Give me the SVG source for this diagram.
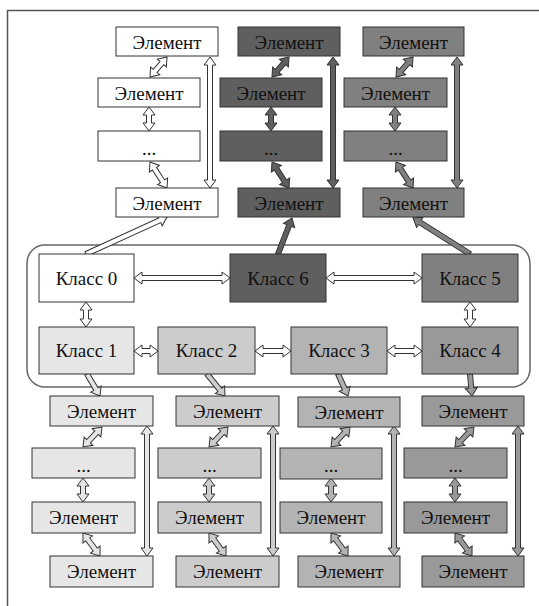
<svg xmlns="http://www.w3.org/2000/svg" width="539" height="606" viewBox="0 0 539 606">
<style>
.box{stroke:#333;stroke-width:1}
.arr{stroke:#333;stroke-width:1;stroke-linejoin:miter}
.w{fill:#ffffff}.d{fill:#5f5f5f}.g{fill:#808080}
.c1{fill:#e6e6e6}.c2{fill:#cccccc}.c3{fill:#b3b3b3}.c4{fill:#999999}
text{font-family:'Liberation Serif','DejaVu Serif',serif;font-size:19px;fill:#111;text-anchor:middle}
</style>
<rect x="0" y="0" width="539" height="606" fill="#fff"/>
<rect x="7.5" y="10.5" width="540" height="610" fill="none" stroke="#555" stroke-width="1.5"/>
<rect id="container" x="27" y="245" width="503" height="142" rx="18" fill="none" stroke="#666" stroke-width="1.5"/>

<g id="connectors">
<path class="arr w" transform="translate(167,57) rotate(130.4)" d="M0,0 L8,-6 L8,-2.5 L18.25,-2.5 L18.25,-6 L26.25,0 L18.25,6 L18.25,2.5 L8,2.5 L8,6 Z"/>
<path class="arr w" transform="translate(149,107) rotate(90)" d="M0,0 L8,-6 L8,-2.5 L16,-2.5 L16,-6 L24,0 L16,6 L16,2.5 L8,2.5 L8,6 Z"/>
<path class="arr w" transform="translate(150,162) rotate(56.8)" d="M0,0 L8,-6 L8,-2.5 L23.06,-2.5 L23.06,-6 L31.06,0 L23.06,6 L23.06,2.5 L8,2.5 L8,6 Z"/>
<path class="arr w" transform="translate(210,57) rotate(90)" d="M0,0 L8,-6 L8,-2.5 L123,-2.5 L123,-6 L131,0 L123,6 L123,2.5 L8,2.5 L8,6 Z"/>
<path class="arr d" transform="translate(289,57) rotate(130.4)" d="M0,0 L8,-6 L8,-2.5 L18.25,-2.5 L18.25,-6 L26.25,0 L18.25,6 L18.25,2.5 L8,2.5 L8,6 Z"/>
<path class="arr d" transform="translate(271,107) rotate(90)" d="M0,0 L8,-6 L8,-2.5 L16,-2.5 L16,-6 L24,0 L16,6 L16,2.5 L8,2.5 L8,6 Z"/>
<path class="arr d" transform="translate(272,162) rotate(56.8)" d="M0,0 L8,-6 L8,-2.5 L23.06,-2.5 L23.06,-6 L31.06,0 L23.06,6 L23.06,2.5 L8,2.5 L8,6 Z"/>
<path class="arr d" transform="translate(333,57) rotate(90)" d="M0,0 L8,-6 L8,-2.5 L123,-2.5 L123,-6 L131,0 L123,6 L123,2.5 L8,2.5 L8,6 Z"/>
<path class="arr g" transform="translate(413,57) rotate(130.4)" d="M0,0 L8,-6 L8,-2.5 L18.25,-2.5 L18.25,-6 L26.25,0 L18.25,6 L18.25,2.5 L8,2.5 L8,6 Z"/>
<path class="arr g" transform="translate(395,107) rotate(90)" d="M0,0 L8,-6 L8,-2.5 L16,-2.5 L16,-6 L24,0 L16,6 L16,2.5 L8,2.5 L8,6 Z"/>
<path class="arr g" transform="translate(396,162) rotate(56.8)" d="M0,0 L8,-6 L8,-2.5 L23.06,-2.5 L23.06,-6 L31.06,0 L23.06,6 L23.06,2.5 L8,2.5 L8,6 Z"/>
<path class="arr g" transform="translate(457,57) rotate(90)" d="M0,0 L8,-6 L8,-2.5 L123,-2.5 L123,-6 L131,0 L123,6 L123,2.5 L8,2.5 L8,6 Z"/>
<path class="arr w" transform="translate(86,254) rotate(-24.55)" d="M0,-2.5 L81.05,-2.5 L81.05,-6 L89.05,0 L81.05,6 L81.05,2.5 L0,2.5 Z"/>
<path class="arr d" transform="translate(278,254) rotate(-68.75)" d="M0,-2.5 L30.6,-2.5 L30.6,-6 L38.6,0 L30.6,6 L30.6,2.5 L0,2.5 Z"/>
<path class="arr g" transform="translate(470,254) rotate(-147.7)" d="M0,-2.5 L59.4,-2.5 L59.4,-6 L67.4,0 L59.4,6 L59.4,2.5 L0,2.5 Z"/>
<path class="arr w" transform="translate(134,278) rotate(0)" d="M0,0 L8,-6 L8,-2.5 L88,-2.5 L88,-6 L96,0 L88,6 L88,2.5 L8,2.5 L8,6 Z"/>
<path class="arr w" transform="translate(326,278) rotate(0)" d="M0,0 L8,-6 L8,-2.5 L88,-2.5 L88,-6 L96,0 L88,6 L88,2.5 L8,2.5 L8,6 Z"/>
<path class="arr w" transform="translate(86,302) rotate(90)" d="M0,0 L8,-6 L8,-2.5 L17,-2.5 L17,-6 L25,0 L17,6 L17,2.5 L8,2.5 L8,6 Z"/>
<path class="arr w" transform="translate(470,302) rotate(90)" d="M0,0 L8,-6 L8,-2.5 L17,-2.5 L17,-6 L25,0 L17,6 L17,2.5 L8,2.5 L8,6 Z"/>
<path class="arr w" transform="translate(134,351) rotate(0)" d="M0,0 L8,-6 L8,-2.5 L16,-2.5 L16,-6 L24,0 L16,6 L16,2.5 L8,2.5 L8,6 Z"/>
<path class="arr w" transform="translate(255,351) rotate(0)" d="M0,0 L8,-6 L8,-2.5 L28,-2.5 L28,-6 L36,0 L28,6 L28,2.5 L8,2.5 L8,6 Z"/>
<path class="arr w" transform="translate(387,351) rotate(0)" d="M0,0 L8,-6 L8,-2.5 L27,-2.5 L27,-6 L35,0 L27,6 L27,2.5 L8,2.5 L8,6 Z"/>
<path class="arr c1" transform="translate(87,374) rotate(59.4)" d="M0,-2.5 L17.55,-2.5 L17.55,-6 L25.55,0 L17.55,6 L17.55,2.5 L0,2.5 Z"/>
<path class="arr c2" transform="translate(207,374) rotate(50.7)" d="M0,-2.5 L20.4,-2.5 L20.4,-6 L28.4,0 L20.4,6 L20.4,2.5 L0,2.5 Z"/>
<path class="arr c3" transform="translate(338,374) rotate(65.6)" d="M0,-2.5 L16.2,-2.5 L16.2,-6 L24.2,0 L16.2,6 L16.2,2.5 L0,2.5 Z"/>
<path class="arr c4" transform="translate(470,374) rotate(84.8)" d="M0,-2.5 L14.1,-2.5 L14.1,-6 L22.1,0 L14.1,6 L14.1,2.5 L0,2.5 Z"/>
<path class="arr c1" transform="translate(102,427) rotate(133.5)" d="M0,0 L8,-6 L8,-2.5 L19.6,-2.5 L19.6,-6 L27.6,0 L19.6,6 L19.6,2.5 L8,2.5 L8,6 Z"/>
<path class="arr c1" transform="translate(83,478) rotate(90)" d="M0,0 L8,-6 L8,-2.5 L16,-2.5 L16,-6 L24,0 L16,6 L16,2.5 L8,2.5 L8,6 Z"/>
<path class="arr c1" transform="translate(83,533) rotate(53.5)" d="M0,0 L8,-6 L8,-2.5 L20.6,-2.5 L20.6,-6 L28.6,0 L20.6,6 L20.6,2.5 L8,2.5 L8,6 Z"/>
<path class="arr c1" transform="translate(147,426) rotate(90)" d="M0,0 L8,-6 L8,-2.5 L122,-2.5 L122,-6 L130,0 L122,6 L122,2.5 L8,2.5 L8,6 Z"/>
<path class="arr c2" transform="translate(228,427) rotate(133.5)" d="M0,0 L8,-6 L8,-2.5 L19.6,-2.5 L19.6,-6 L27.6,0 L19.6,6 L19.6,2.5 L8,2.5 L8,6 Z"/>
<path class="arr c2" transform="translate(209,478) rotate(90)" d="M0,0 L8,-6 L8,-2.5 L16,-2.5 L16,-6 L24,0 L16,6 L16,2.5 L8,2.5 L8,6 Z"/>
<path class="arr c2" transform="translate(209,533) rotate(53.5)" d="M0,0 L8,-6 L8,-2.5 L20.6,-2.5 L20.6,-6 L28.6,0 L20.6,6 L20.6,2.5 L8,2.5 L8,6 Z"/>
<path class="arr c2" transform="translate(273,426) rotate(90)" d="M0,0 L8,-6 L8,-2.5 L122,-2.5 L122,-6 L130,0 L122,6 L122,2.5 L8,2.5 L8,6 Z"/>
<path class="arr c3" transform="translate(350,427) rotate(133.5)" d="M0,0 L8,-6 L8,-2.5 L19.6,-2.5 L19.6,-6 L27.6,0 L19.6,6 L19.6,2.5 L8,2.5 L8,6 Z"/>
<path class="arr c3" transform="translate(331,478) rotate(90)" d="M0,0 L8,-6 L8,-2.5 L16,-2.5 L16,-6 L24,0 L16,6 L16,2.5 L8,2.5 L8,6 Z"/>
<path class="arr c3" transform="translate(331,533) rotate(53.5)" d="M0,0 L8,-6 L8,-2.5 L20.6,-2.5 L20.6,-6 L28.6,0 L20.6,6 L20.6,2.5 L8,2.5 L8,6 Z"/>
<path class="arr c3" transform="translate(394,426) rotate(90)" d="M0,0 L8,-6 L8,-2.5 L122,-2.5 L122,-6 L130,0 L122,6 L122,2.5 L8,2.5 L8,6 Z"/>
<path class="arr c4" transform="translate(474,427) rotate(133.5)" d="M0,0 L8,-6 L8,-2.5 L19.6,-2.5 L19.6,-6 L27.6,0 L19.6,6 L19.6,2.5 L8,2.5 L8,6 Z"/>
<path class="arr c4" transform="translate(455,478) rotate(90)" d="M0,0 L8,-6 L8,-2.5 L16,-2.5 L16,-6 L24,0 L16,6 L16,2.5 L8,2.5 L8,6 Z"/>
<path class="arr c4" transform="translate(455,533) rotate(53.5)" d="M0,0 L8,-6 L8,-2.5 L20.6,-2.5 L20.6,-6 L28.6,0 L20.6,6 L20.6,2.5 L8,2.5 L8,6 Z"/>
<path class="arr c4" transform="translate(518,426) rotate(90)" d="M0,0 L8,-6 L8,-2.5 L122,-2.5 L122,-6 L130,0 L122,6 L122,2.5 L8,2.5 L8,6 Z"/>
</g>

<g id="t1a"><rect class="box w" x="116" y="27" width="102" height="29"/><text x="167" y="49">Элемент</text></g>
<g id="t1b"><rect class="box w" x="98" y="78" width="102" height="29"/><text x="149" y="100">Элемент</text></g>
<g id="t1c"><rect class="box w" x="98" y="131" width="102" height="30"/><text x="149" y="155">...</text></g>
<g id="t1d"><rect class="box w" x="116" y="188" width="102" height="29"/><text x="167" y="210">Элемент</text></g>
<g id="t2a"><rect class="box d" x="238" y="27" width="102" height="29"/><text x="289" y="49">Элемент</text></g>
<g id="t2b"><rect class="box d" x="220" y="78" width="102" height="29"/><text x="271" y="100">Элемент</text></g>
<g id="t2c"><rect class="box d" x="220" y="131" width="102" height="30"/><text x="271" y="155">...</text></g>
<g id="t2d"><rect class="box d" x="238" y="188" width="102" height="29"/><text x="289" y="210">Элемент</text></g>
<g id="t3a"><rect class="box g" x="363" y="27" width="101" height="29"/><text x="413.5" y="49">Элемент</text></g>
<g id="t3b"><rect class="box g" x="344" y="78" width="103" height="29"/><text x="395.5" y="100">Элемент</text></g>
<g id="t3c"><rect class="box g" x="344" y="131" width="103" height="30"/><text x="395.5" y="155">...</text></g>
<g id="t3d"><rect class="box g" x="363" y="188" width="101" height="29"/><text x="413.5" y="210">Элемент</text></g>

<g id="k0"><rect class="box w" x="39" y="254" width="95" height="48"/><text x="86.5" y="285">Класс 0</text></g>
<g id="k6"><rect class="box d" x="230" y="254" width="96" height="48"/><text x="278" y="285">Класс 6</text></g>
<g id="k5"><rect class="box g" x="422" y="254" width="96" height="48"/><text x="470" y="285">Класс 5</text></g>
<g id="k1"><rect class="box c1" x="39" y="327" width="95" height="47"/><text x="86.5" y="357">Класс 1</text></g>
<g id="k2"><rect class="box c2" x="158" y="327" width="97" height="47"/><text x="206.5" y="357">Класс 2</text></g>
<g id="k3"><rect class="box c3" x="291" y="327" width="96" height="47"/><text x="339" y="357">Класс 3</text></g>
<g id="k4"><rect class="box c4" x="422" y="327" width="96" height="47"/><text x="470" y="357">Класс 4</text></g>

<g id="b1a"><rect class="box c1" x="50" y="396" width="103" height="30"/><text x="101.5" y="418">Элемент</text></g>
<g id="b1b"><rect class="box c1" x="32" y="448" width="103" height="30"/><text x="83.5" y="472">...</text></g>
<g id="b1c"><rect class="box c1" x="32" y="502" width="103" height="31"/><text x="83.5" y="524">Элемент</text></g>
<g id="b1d"><rect class="box c1" x="50" y="556" width="103" height="31"/><text x="101.5" y="578">Элемент</text></g>
<g id="b2a"><rect class="box c2" x="176" y="396" width="103" height="30"/><text x="227.5" y="418">Элемент</text></g>
<g id="b2b"><rect class="box c2" x="158" y="448" width="103" height="30"/><text x="209.5" y="472">...</text></g>
<g id="b2c"><rect class="box c2" x="158" y="502" width="103" height="31"/><text x="209.5" y="524">Элемент</text></g>
<g id="b2d"><rect class="box c2" x="176" y="556" width="103" height="31"/><text x="227.5" y="578">Элемент</text></g>
<g id="b3a"><rect class="box c3" x="298" y="397" width="102" height="30"/><text x="349" y="419">Элемент</text></g>
<g id="b3b"><rect class="box c3" x="280" y="448" width="102" height="31"/><text x="331" y="472">...</text></g>
<g id="b3c"><rect class="box c3" x="280" y="502" width="102" height="31"/><text x="331" y="524">Элемент</text></g>
<g id="b3d"><rect class="box c3" x="298" y="556" width="102" height="31"/><text x="349" y="578">Элемент</text></g>
<g id="b4a"><rect class="box c4" x="422" y="396" width="102" height="30"/><text x="473" y="418">Элемент</text></g>
<g id="b4b"><rect class="box c4" x="404" y="448" width="103" height="30"/><text x="455.5" y="472">...</text></g>
<g id="b4c"><rect class="box c4" x="404" y="502" width="103" height="31"/><text x="455.5" y="524">Элемент</text></g>
<g id="b4d"><rect class="box c4" x="422" y="556" width="102" height="31"/><text x="473" y="578">Элемент</text></g>
</svg>
